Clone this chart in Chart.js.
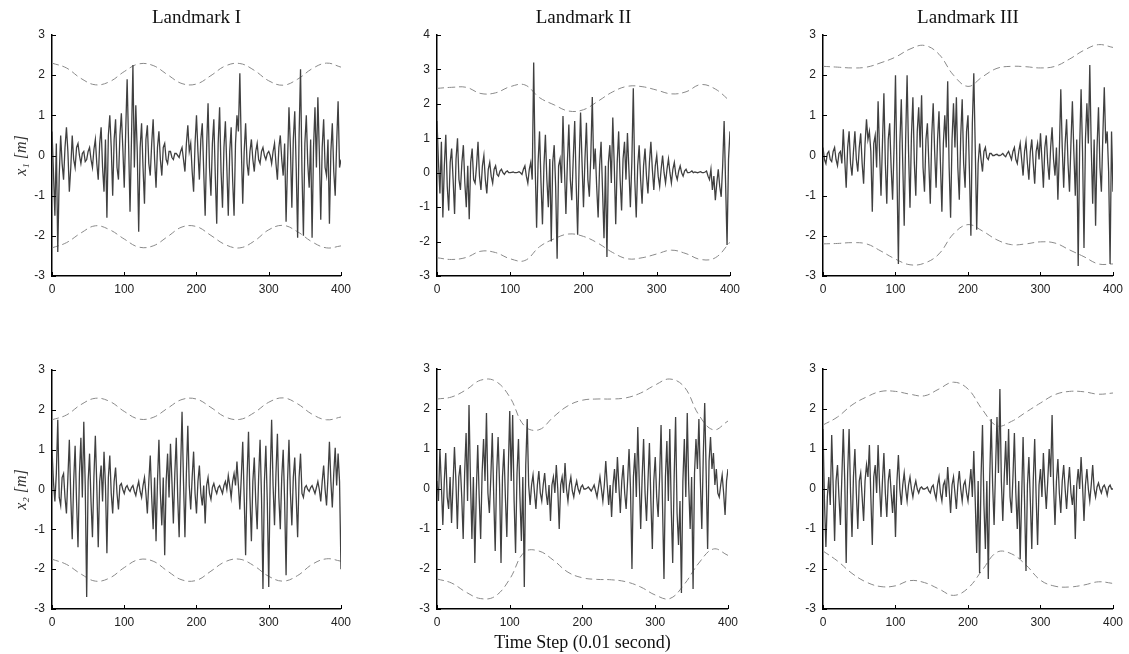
<!DOCTYPE html>
<html>
<head>
<meta charset="utf-8">
<script src="https://cdn.jsdelivr.net/npm/chart.js@4"></script>
<style>
  body { margin: 0; background: #fff; width: 1129px; height: 654px; position: relative; overflow: hidden; }
  canvas { position: absolute; }
</style>
</head>
<body>
<canvas id="c1" width="357" height="300" style="left:0px;top:0px"></canvas>
<canvas id="c2" width="361" height="300" style="left:385px;top:0px"></canvas>
<canvas id="c3" width="358" height="300" style="left:771px;top:0px"></canvas>
<canvas id="c4" width="357" height="314" style="left:0px;top:340px"></canvas>
<canvas id="c5" width="359" height="314" style="left:385px;top:340px"></canvas>
<canvas id="c6" width="358" height="314" style="left:771px;top:340px"></canvas>
<script>
// time axis: signal read every 2 steps, bounds every 20 steps
const timeSteps = Array.from({length: 201}, (_, i) => i * 2);
const boundSteps = Array.from({length: 21}, (_, i) => i * 20);

// Landmark I, x1
const lm1X1 = [
  0.6,-0.4,-1.5,0.3,-2.4,-0.5,0.5,-0.2,-0.6,0.2,0.7,0.1,-0.9,-0.3,0.5,-0.1,-0.3,0.2,0.3,0.0,
  -0.2,0.05,0.1,-0.15,-0.1,0.1,0.2,-0.1,-0.3,0.15,0.4,-0.2,-0.6,0.3,0.7,-0.3,-0.9,0.4,-1.55,0.5,
  1.0,0.2,-1.0,0.4,0.9,-0.3,-0.6,0.5,1.05,0.2,-0.8,0.6,1.9,0.3,-1.4,0.4,2.25,-0.3,1.25,0.1,
  -1.9,0.2,0.8,-0.3,-1.2,0.4,0.75,-0.2,-0.5,0.3,0.9,-0.1,-0.8,0.2,0.6,-0.1,-0.5,0.2,0.3,-0.1,
  -0.2,0.1,0.1,-0.05,-0.1,0.05,0.05,0.0,-0.05,0.1,0.2,-0.1,-0.4,0.3,0.75,0.1,0.3,-0.4,-0.9,0.3,
  1.0,0.1,-0.6,0.4,0.8,-0.4,-1.5,0.2,1.3,-0.3,-1.0,0.3,0.9,-0.5,-1.7,0.3,1.2,-0.4,-1.3,0.2,
  0.85,-0.3,-1.5,0.1,0.7,-0.6,-1.5,0.3,1.0,0.6,2.05,0.2,-1.2,0.1,0.8,-0.2,-0.5,0.1,0.4,-0.1,
  -0.4,0.1,0.3,-0.1,-0.2,0.1,0.2,0.0,-0.1,0.05,0.1,0.0,-0.2,0.1,0.3,-0.2,-0.6,0.2,0.5,-0.1,
  -0.5,0.3,-1.65,-0.2,1.2,0.2,-1.3,0.4,1.1,-0.3,-2.05,0.5,2.15,-0.4,-2.0,0.3,1.0,-0.2,-0.8,0.4,
  -2.05,0.2,1.2,-0.3,1.45,0.1,-1.6,0.2,0.9,-0.3,-0.5,0.4,-1.7,0.1,0.8,-0.4,-1.0,0.3,1.35,-0.3,
  -0.1];
const lm1X1Upper = [2.30,2.18,1.92,1.76,1.84,2.09,2.28,2.24,2.01,1.79,1.78,1.99,2.23,2.29,2.12,1.86,1.75,1.90,2.16,2.30,2.20];
const lm1X1Lower = [-2.30,-2.17,-1.93,-1.75,-1.85,-2.08,-2.28,-2.25,-2.02,-1.78,-1.77,-1.99,-2.22,-2.30,-2.13,-1.85,-1.74,-1.90,-2.15,-2.30,-2.25];

// Landmark II, x1
const lm2X1 = [
  1.5,0.3,-0.6,0.9,-1.3,0.2,1.1,-0.4,-1.1,0.3,0.7,-0.2,-1.2,0.4,1.0,-0.2,-0.5,0.3,0.8,-0.3,
  -1.0,0.2,-1.35,0.3,0.7,-0.2,-0.3,0.2,0.9,-0.1,-0.5,0.2,0.5,-0.2,-0.6,0.1,0.3,-0.1,-0.3,0.1,
  0.2,-0.05,-0.1,0.05,0.1,0.0,-0.05,0.02,0.05,0.0,0.0,0.01,0.02,0.0,0.0,0.01,0.03,0.0,-0.05,0.1,
  0.2,-0.1,-0.3,0.1,0.3,-0.2,3.2,0.2,-1.6,0.3,1.2,-0.3,-1.5,0.2,1.1,-0.2,-1.0,0.4,-2.0,0.3,
  0.8,-0.4,-2.5,0.2,0.4,-0.3,1.65,0.1,-1.2,0.3,1.4,-0.2,-0.8,0.4,1.5,-0.3,-1.8,0.2,1.75,0.3,
  -1.0,0.4,1.45,-0.2,-0.7,0.5,2.2,0.1,0.7,-0.4,-1.3,0.2,0.9,-0.5,-1.9,0.2,-2.45,0.3,0.8,-0.3,
  1.6,0.2,-1.5,0.3,1.2,-0.2,-1.1,0.4,0.9,-0.2,1.15,0.1,-1.0,0.3,2.45,-0.2,-1.3,0.2,0.8,-0.2,
  -0.9,0.2,0.7,-0.1,-0.6,0.3,0.9,0.1,-0.5,0.2,0.5,-0.1,-0.4,0.1,0.5,0.0,-0.3,0.1,0.4,0.0,
  -0.3,0.1,0.3,-0.05,-0.2,0.05,0.2,0.0,-0.1,0.05,0.1,0.0,0.0,0.02,0.05,0.0,0.02,0.01,0.0,0.02,
  0.03,0.0,0.0,0.02,0.05,-0.1,-0.2,0.1,-0.5,-0.1,-0.8,-0.3,0.1,-0.4,-0.7,0.2,1.5,-0.3,-2.1,0.4,
  1.2];
const lm2X1Upper = [2.45,2.48,2.48,2.30,2.32,2.50,2.55,2.18,1.97,1.79,1.83,2.08,2.35,2.51,2.50,2.40,2.29,2.35,2.56,2.43,2.08];
const lm2X1Lower = [-2.47,-2.52,-2.46,-2.28,-2.32,-2.50,-2.55,-2.15,-1.92,-1.78,-1.85,-2.05,-2.32,-2.50,-2.47,-2.36,-2.25,-2.35,-2.52,-2.47,-2.02];

// Landmark III, x1
const lm3X1 = [
  0.2,-0.1,-0.2,0.05,0.1,-0.1,-0.15,0.1,0.2,-0.1,-0.25,0.05,0.1,-0.2,0.65,-0.1,-0.8,0.2,0.6,-0.2,
  -0.5,0.1,0.6,-0.1,-0.4,0.2,0.55,-0.2,-0.7,0.3,0.9,0.4,0.6,0.1,-1.4,0.3,0.5,-0.3,1.35,0.1,
  -1.0,0.3,1.55,-0.2,-1.2,0.4,0.8,-0.3,-1.1,0.2,2.0,-0.4,-2.7,0.3,1.4,-0.2,-1.75,0.4,2.0,0.1,
  -1.3,0.5,1.45,-0.2,-1.0,0.6,1.2,0.2,1.5,-0.3,-0.9,0.4,0.8,-0.2,-1.2,0.5,1.3,0.1,-0.8,0.4,
  1.1,-0.2,-1.4,0.3,1.0,0.2,1.85,-0.3,-1.55,0.4,1.3,0.2,1.45,-0.3,-1.1,0.5,1.4,-0.2,-0.8,0.6,
  1.0,-0.4,-2.0,0.8,2.05,0.2,-1.85,-0.2,0.3,-0.1,-0.4,0.1,0.2,-0.05,-0.1,0.05,0.05,0.0,0.0,0.02,
  0.03,0.0,0.0,0.02,0.05,0.0,-0.03,0.05,0.1,0.0,-0.1,0.1,0.2,-0.1,-0.2,0.1,0.3,-0.1,-0.5,0.1,
  0.35,-0.2,-0.6,0.1,0.4,-0.2,-0.7,0.1,0.3,-0.1,0.55,-0.1,-0.8,0.2,0.5,-0.2,-0.6,0.2,0.7,-0.1,
  -0.5,0.2,-1.1,0.1,1.65,0.2,-0.8,0.3,0.9,-0.2,-0.9,0.3,1.35,0.1,-1.0,0.4,-2.75,0.2,1.65,0.1,
  -2.3,0.4,1.3,0.3,2.25,0.2,-1.2,0.4,-1.75,0.2,1.2,-0.3,-0.9,0.5,1.7,0.3,0.6,-0.4,-2.7,0.6,
  -0.9];
const lm3X1Upper = [2.22,2.20,2.18,2.20,2.31,2.45,2.65,2.74,2.52,2.00,1.72,1.96,2.17,2.22,2.21,2.18,2.22,2.40,2.62,2.76,2.69];
const lm3X1Lower = [-2.20,-2.19,-2.17,-2.20,-2.38,-2.58,-2.72,-2.68,-2.45,-1.95,-1.72,-1.88,-2.10,-2.22,-2.20,-2.15,-2.18,-2.35,-2.52,-2.70,-2.70];

// Landmark I, x2
const lm1X2 = [
  1.0,0.2,-0.3,0.4,1.75,-0.2,-0.4,0.3,0.4,-0.2,-0.6,0.3,1.25,-0.2,-1.25,0.2,1.1,-0.3,-1.45,0.4,
  1.3,-0.2,1.7,0.1,-2.7,0.2,0.9,-0.3,-1.2,0.3,1.35,0.1,-1.45,0.2,0.6,-0.3,0.95,0.1,-1.6,0.3,
  0.85,-0.1,-0.6,0.2,0.55,-0.1,-0.5,0.1,0.15,0.0,-0.1,0.05,0.1,0.0,-0.05,0.05,0.1,-0.05,-0.15,0.05,
  0.2,-0.05,-0.2,0.1,0.3,-0.1,-0.6,0.2,0.85,-0.2,-1.0,0.3,-1.3,0.2,1.25,-0.1,-0.9,0.3,-1.65,0.2,
  0.9,-0.2,1.15,0.2,-0.85,0.4,1.3,-0.2,-1.2,0.5,1.95,0.2,-1.2,0.4,1.6,0.1,-0.5,0.3,0.95,-0.1,
  -0.6,0.2,0.6,-0.1,-0.4,0.1,-0.85,0.1,0.3,-0.1,-0.25,0.05,0.15,0.0,-0.1,0.05,0.1,0.0,-0.1,0.1,
  0.2,0.0,0.35,0.1,-0.2,0.2,0.4,0.1,0.7,0.1,-0.5,0.3,1.2,-0.2,-1.65,0.3,1.45,-0.2,-1.3,0.2,
  0.8,-0.3,-1.0,0.3,1.25,-0.2,-2.5,0.2,1.1,-0.3,-2.45,0.3,1.75,0.1,-0.9,0.4,1.4,-0.2,-1.0,0.3,
  1.0,-0.3,-2.15,0.2,1.25,-0.1,-0.9,0.3,0.8,-0.2,-1.2,0.3,0.9,-0.1,-0.2,0.05,0.1,0.0,-0.05,0.05,
  0.1,0.0,-0.1,0.05,0.2,0.0,-0.3,0.2,0.6,0.0,-0.4,0.3,1.2,0.2,-0.45,0.4,1.05,0.1,0.9,0.2,
  -2.0];
const lm1X2Upper = [1.75,1.87,2.13,2.29,2.21,1.96,1.77,1.81,2.04,2.26,2.27,2.06,1.82,1.76,1.93,2.19,2.30,2.15,1.89,1.75,1.82];
const lm1X2Lower = [-1.75,-1.88,-2.12,-2.30,-2.22,-1.96,-1.76,-1.80,-2.05,-2.27,-2.28,-2.05,-1.81,-1.75,-1.92,-2.18,-2.30,-2.16,-1.88,-1.74,-1.80];

// Landmark II, x2
const lm2X2 = [
  0.2,-0.3,1.0,0.1,-0.9,0.2,0.9,-0.2,-0.5,0.3,-0.85,0.1,1.05,0.2,-1.0,0.3,0.6,-0.2,-1.25,0.4,
  1.4,-0.3,2.1,0.2,-1.25,0.3,-1.85,-0.1,1.1,-0.2,-1.25,0.4,1.25,0.2,1.9,-0.1,-0.6,0.3,1.4,-0.2,
  -1.55,0.4,1.3,0.1,-1.85,0.3,1.0,-0.2,-1.2,0.5,1.95,0.2,1.85,-0.3,-1.6,0.4,1.25,-0.2,-1.3,0.3,
  -2.45,0.6,1.75,0.1,-0.4,0.1,0.35,-0.1,-0.5,0.1,0.45,-0.1,-0.3,0.1,0.4,-0.1,-0.4,0.1,-0.8,0.1,
  0.3,-0.1,0.6,0.0,-1.0,0.1,0.3,-0.1,0.65,0.0,-0.3,0.1,0.3,-0.05,-0.2,0.05,0.2,0.0,-0.1,0.05,
  0.1,0.0,0.0,0.02,0.05,0.0,-0.05,0.02,0.1,-0.05,-0.2,0.05,0.3,0.0,-0.3,0.1,0.7,0.1,-0.4,0.1,
  -0.7,0.1,0.5,-0.1,0.8,0.1,-0.6,0.2,0.6,-0.1,-0.5,0.2,1.0,0.0,-2.0,0.3,0.9,-0.2,1.55,0.2,
  -1.0,0.3,1.25,-0.1,-0.8,0.2,1.15,-0.3,-1.5,0.2,0.8,-0.2,-0.7,0.3,1.6,-0.4,-2.25,0.3,1.2,-0.3,
  1.5,-0.5,-1.85,0.3,1.8,-0.6,-1.4,-0.3,-2.6,0.2,1.25,-0.2,1.9,0.1,-1.0,0.3,-2.5,0.4,1.25,0.5,
  1.75,0.2,-1.0,0.8,2.15,0.4,-1.5,0.7,1.3,0.5,0.9,0.1,0.5,-0.1,-0.2,0.1,0.35,-0.1,-0.65,0.2,
  0.5];
const lm2X2Upper = [2.25,2.30,2.48,2.72,2.70,2.30,1.58,1.48,1.80,2.08,2.22,2.25,2.25,2.28,2.40,2.60,2.75,2.55,1.85,1.48,1.70];
const lm2X2Lower = [-2.25,-2.35,-2.58,-2.74,-2.68,-2.25,-1.58,-1.55,-1.78,-2.08,-2.22,-2.26,-2.27,-2.32,-2.45,-2.65,-2.74,-2.38,-1.85,-1.50,-1.66];

// Landmark III, x2
const lm3X2 = [
  1.5,-0.3,-1.45,-0.2,0.3,-0.4,1.35,0.1,-1.3,0.2,0.6,-0.2,-0.9,0.3,1.5,0.2,-1.85,0.4,1.5,-0.1,
  -1.2,0.3,1.0,-0.1,-1.0,0.2,0.4,-0.2,-0.8,0.2,0.6,0.3,1.1,-0.2,-1.4,0.3,0.6,-0.1,1.1,0.1,
  -0.7,0.2,0.9,-0.1,-0.7,0.2,0.5,-0.1,-0.6,0.1,-1.2,0.2,0.85,0.0,-0.4,0.1,0.4,0.0,-0.3,0.1,
  0.3,0.0,-0.2,0.05,0.2,0.0,-0.1,0.02,0.05,0.0,0.0,0.02,0.05,-0.05,-0.1,0.05,0.1,-0.1,-0.25,0.1,
  0.3,-0.1,-0.3,0.1,0.2,-0.2,0.55,0.0,-0.6,0.1,0.3,-0.1,-0.5,0.1,0.45,0.0,-0.3,0.1,0.2,-0.1,
  -0.3,0.1,0.5,-0.2,0.95,-0.3,-1.6,0.2,-2.1,0.3,1.6,-0.4,-1.5,0.2,-2.25,0.3,1.75,0.1,-0.9,0.5,
  1.8,0.4,2.5,0.2,-0.8,0.3,1.2,0.1,1.5,-0.2,-0.6,0.3,1.4,-0.1,-1.0,0.2,-1.75,-0.2,1.3,-0.3,
  -2.05,0.1,0.8,-0.3,-1.5,0.2,1.25,-0.2,-1.4,0.1,0.5,-0.2,0.9,0.1,-0.5,0.2,1.0,0.3,1.85,0.1,
  -0.9,0.2,0.75,-0.1,-0.6,0.2,0.6,0.0,-0.5,0.1,0.55,-0.1,-0.4,0.1,-1.25,0.1,0.5,0.0,0.8,0.1,
  -0.8,0.1,0.5,0.0,-0.3,0.1,0.6,0.0,-0.2,0.05,0.15,0.0,-0.1,0.05,0.1,0.0,-0.15,0.05,0.1,0.0,
  0.0];
const lm3X2Upper = [1.60,1.80,2.10,2.30,2.44,2.44,2.37,2.33,2.50,2.67,2.50,1.98,1.58,1.69,1.92,2.15,2.36,2.44,2.43,2.37,2.40];
const lm3X2Lower = [-1.55,-1.80,-2.11,-2.33,-2.44,-2.42,-2.29,-2.34,-2.50,-2.66,-2.48,-2.02,-1.58,-1.62,-1.90,-2.28,-2.43,-2.45,-2.40,-2.32,-2.36];

const pairs = (xs, ys) => xs.map((x, i) => ({x: x, y: ys[i]}));

// small inward tick marks like the original figure
const inwardTicks = {
  id: 'inwardTicks',
  afterDraw(chart) {
    const {ctx, chartArea: {left, bottom}, scales: {x, y}} = chart;
    ctx.save();
    ctx.strokeStyle = '#000';
    ctx.lineWidth = 1;
    ctx.beginPath();
    x.ticks.forEach(t => {
      const px = Math.round(x.getPixelForValue(t.value)) + 0.5;
      ctx.moveTo(px, bottom);
      ctx.lineTo(px, bottom - 4);
    });
    y.ticks.forEach(t => {
      const py = Math.round(y.getPixelForValue(t.value)) + 0.5;
      ctx.moveTo(left, py);
      ctx.lineTo(left + 4, py);
    });
    ctx.stroke();
    ctx.restore();
  }
};

function makePanel(id, opts) {
  const datasets = [
    {data: pairs(timeSteps, opts.signal), borderColor: '#404040', borderWidth: 1.3, pointRadius: 0, tension: 0},
    {data: pairs(boundSteps, opts.upper), borderColor: '#8a8a8a', borderWidth: 1, borderDash: [7, 4], pointRadius: 0, tension: 0.4},
    {data: pairs(boundSteps, opts.lower), borderColor: '#8a8a8a', borderWidth: 1, borderDash: [7, 4], pointRadius: 0, tension: 0.4}
  ];
  new Chart(document.getElementById(id), {
    type: 'line',
    data: {datasets},
    options: {
      responsive: false,
      animation: false,
      layout: {padding: {top: opts.padTop, right: 14, left: 0, bottom: 0}},
      plugins: {
        legend: {display: false},
        tooltip: {enabled: false},
        title: {
          display: !!opts.title,
          text: opts.title || '',
          fullSize: false,
          color: '#111',
          font: {family: '"Liberation Serif", serif', size: 19, weight: 'normal', lineHeight: '22px'},
          padding: {top: 7, bottom: 6}
        }
      },
      scales: {
        x: {
          type: 'linear', min: 0, max: 400,
          afterFit: s => { s.height = opts.xHeight; },
          ticks: {stepSize: 100, color: '#222', padding: 6, maxRotation: 0,
                  font: {family: '"Liberation Sans", Arial, sans-serif', size: 12}},
          grid: {drawOnChartArea: false, drawTicks: false},
          border: {display: true, color: '#000', width: 1.5},
          title: {
            display: !!opts.xTitle, text: opts.xTitle || '', color: '#111',
            font: {family: '"Liberation Serif", serif', size: 18}, padding: {top: 2, bottom: 0}
          }
        },
        y: {
          type: 'linear', min: -3, max: opts.yMax,
          afterFit: s => { s.width = 52; },
          ticks: {stepSize: 1, color: '#222', padding: 7,
                  font: {family: '"Liberation Sans", Arial, sans-serif', size: 12}},
          grid: {drawOnChartArea: false, drawTicks: false},
          border: {display: true, color: '#000', width: 1.5},
          title: {
            display: !!opts.yTitle, text: opts.yTitle || '', color: '#333',
            font: {family: '"Liberation Serif", serif', size: 16, style: 'italic'}, padding: {top: 12, bottom: 0}
          }
        }
      }
    },
    plugins: [inwardTicks]
  });
}

makePanel('c1', {signal: lm1X1, upper: lm1X1Upper, lower: lm1X1Lower, yMax: 3, title: 'Landmark I', yTitle: 'x\u2081 [m]', padTop: 0, xHeight: 24});
makePanel('c2', {signal: lm2X1, upper: lm2X1Upper, lower: lm2X1Lower, yMax: 4, title: 'Landmark II', padTop: 0, xHeight: 24});
makePanel('c3', {signal: lm3X1, upper: lm3X1Upper, lower: lm3X1Lower, yMax: 3, title: 'Landmark III', padTop: 0, xHeight: 24});
makePanel('c4', {signal: lm1X2, upper: lm1X2Upper, lower: lm1X2Lower, yMax: 3, yTitle: 'x\u2082 [m]', padTop: 30, xHeight: 45});
makePanel('c5', {signal: lm2X2, upper: lm2X2Upper, lower: lm2X2Lower, yMax: 3, xTitle: 'Time Step (0.01 second)', padTop: 29, xHeight: 45});
makePanel('c6', {signal: lm3X2, upper: lm3X2Upper, lower: lm3X2Lower, yMax: 3, padTop: 29, xHeight: 45});
</script>
</body>
</html>
